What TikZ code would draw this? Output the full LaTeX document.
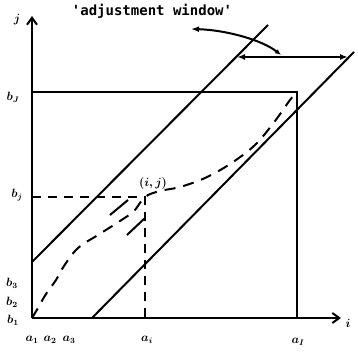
\documentclass[tikz,border=0pt]{standalone}
\usepackage{fontspec}
\newfontfamily\typefont{DejaVu Sans Mono}
\usetikzlibrary{arrows.meta}

\begin{document}
\begin{tikzpicture}[x=1pt,y=1pt,
  ax/.style={line width=2pt,-{Straight Barb[length=7pt,width=10pt]}},
  edge/.style={line width=2pt},
  guide/.style={line width=1.6pt,dash pattern=on 9pt off 7pt},
  warp/.style={line width=2pt,dash pattern=on 11pt off 8pt},
  lbl/.style={inner sep=1pt,font=\large\boldmath},
  dbl/.style={line width=2pt,{Latex[length=8pt,width=6pt]}-{Latex[length=8pt,width=6pt]}}
]
  \useasboundingbox (0,0) rectangle (358,352);
  \coordinate (O) at (32,34);
  \coordinate (ytop) at (32,336);
  \coordinate (xend) at (341,34);
  \coordinate (cJ) at (32,260);
  \coordinate (corner) at (297,260);
  \coordinate (cI) at (297,34);
  \coordinate (ij) at (145,155);
  \coordinate (cj) at (32,155);
  \coordinate (ci) at (145,34);
  \coordinate (up0) at (32,90);
  \coordinate (up1) at (268,327);
  \coordinate (lo0) at (92,34);
  \coordinate (lo1) at (354,300);
  \coordinate (wl) at (237,295);
  \coordinate (wr) at (348,295);
  \coordinate (wm) at (281,297);
  \coordinate (tail) at (191,323);

  \draw[ax] (O) -- (ytop);
  \draw[ax] (O) -- (xend);
  \draw[edge] (cJ) -- (corner) -- (cI);
  \draw[edge] (up0) -- (up1);
  \draw[edge] (lo0) -- (lo1);
  \draw[guide] (cj) -- (ij) -- (ci);
  \draw[warp] plot[smooth,tension=0.6] coordinates {(32,34) (38,44) (46,58) (56,72) (64,86)
    (78,104) (98,117) (120,131) (134,141) (ij) (160,161) (180,165) (205,174)
    (230,188) (255,207) (275,231) (290,252) (corner)};
  \draw[edge] (110,137) -- (128,152);
  \draw[edge] (127,117) -- (145,134);
  \draw[dbl] (wl) -- (wr);
  \draw[line width=2pt,{Latex[length=8pt,width=6pt]}-{Latex[length=6pt,width=5pt]}]
    (tail) .. controls (226,322) and (262,312) .. (wm);

  \node[lbl] (jlab) at (17,332) {$j$};
  \node[lbl] (ilab) at (348,29) {$i$};
  \node[inner sep=0pt] (window) at (152,341) {\typefont\bfseries\fontsize{14}{16}\selectfont 'adjustment window'};
  \node[lbl] (bJ) at (13,255) {$b_J$};
  \node[lbl] (bj) at (17,157) {$b_j$};
  \node[lbl] (b3) at (12,69) {$b_3$};
  \node[lbl] (b2) at (12,50) {$b_2$};
  \node[lbl] (b1) at (13,32) {$b_1$};
  \node[lbl] (a1) at (32,12) {$a_1$};
  \node[lbl] (a2) at (50,12) {$a_2$};
  \node[lbl] (a3) at (69,12) {$a_3$};
  \node[lbl] (ai) at (147,12) {$a_i$};
  \node[lbl] (aI) at (298,10) {$a_I$};
  \node[lbl] (ijlab) at (153,168) {$(i,j)$};
\end{tikzpicture}
\end{document}
